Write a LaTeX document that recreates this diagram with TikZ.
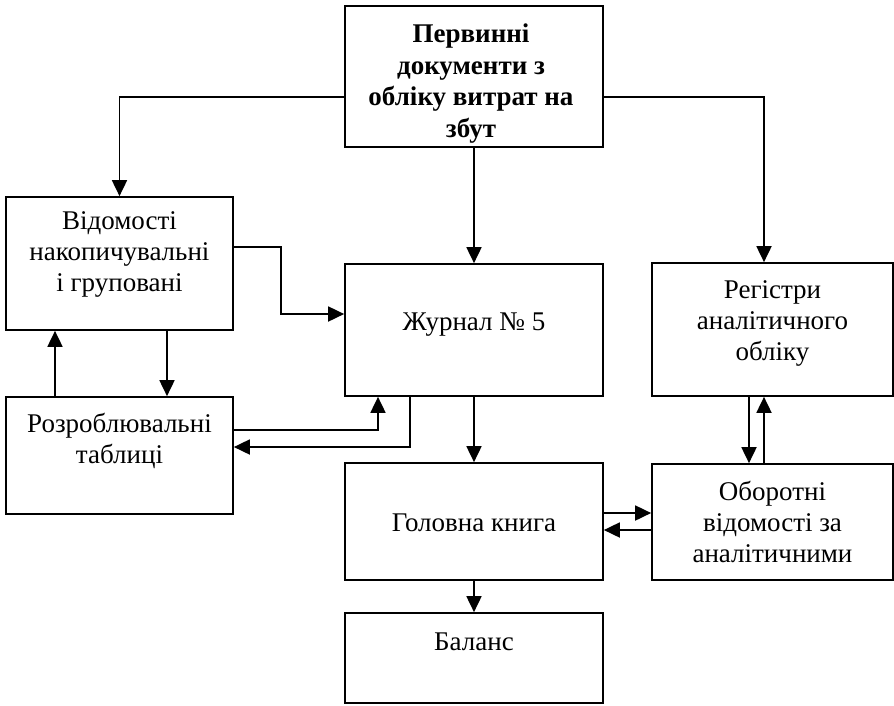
\documentclass[tikz,border=0pt]{standalone}
\usepackage{fontspec}
\setmainfont{Liberation Serif}
\usetikzlibrary{arrows.meta,positioning}

\begin{document}
\begin{tikzpicture}[x=1pt,y=-1pt,line width=1.8pt,
   b/.style={draw,line width=1.7pt,inner sep=0pt},
   tx/.style={inner sep=0pt,align=center,font=\fontsize{27}{31}\selectfont,
              execute at begin node=\strut},
   ar/.style={-{Triangle[length=16pt,width=15pt]}}]
  \useasboundingbox (0,0) rectangle (894,705);
  \node[b,minimum width=258pt,minimum height=141pt] (prv) at (474,76.5) {};
  \node[b,minimum width=227pt,minimum height=133pt] (ved) at (119.5,263.5) {};
  \node[b,minimum width=227pt,minimum height=117pt] (rozr) at (119.5,455.5) {};
  \node[b,minimum width=258pt,minimum height=132pt] (zhur) at (474,330) {};
  \node[b,minimum width=241pt,minimum height=133pt] (reg) at (772.5,329.5) {};
  \node[b,minimum width=258pt,minimum height=117pt] (gol) at (474,521.5) {};
  \node[b,minimum width=241pt,minimum height=116pt] (obor) at (772.5,522) {};
  \node[b,minimum width=258pt,minimum height=90pt] (bal) at (474,658) {};

  \node[tx,font=\fontsize{27}{31.5}\selectfont\bfseries,below=18pt of prv.north,xshift=-3pt] (prvT)
       {Первинні\\документи з\\обліку витрат на\\збут};
  \node[tx,below=15pt of ved.north] (vedT) {Відомості\\накопичувальні\\і груповані};
  \node[tx,below=16pt of rozr.north] (rozrT) {Розроблювальні\\таблиці};
  \node[tx,below=44.5pt of zhur.north] (zhurT) {Журнал № 5};
  \node[tx,below=18pt of reg.north] (regT) {Регістри\\аналітичного\\обліку};
  \node[tx,below=46.5pt of gol.north] (golT) {Головна книга};
  \node[tx,below=17.5pt of obor.north] (oborT) {Оборотні\\відомості за\\аналітичними};
  \node[tx,below=15.5pt of bal.north] (balT) {Баланс};

  \draw[ar] ([yshift=-20.5pt]prv.west) -| (ved.north);
  \draw[ar] (prv.south) -- (zhur.north);
  \draw[ar] ([yshift=-20.5pt]prv.east) -| ([xshift=-8.5pt]reg.north);
  \draw[ar] ([yshift=16.5pt]ved.east) -- ++(47,0) |- ([yshift=16pt]zhur.west);
  \draw[ar] ([xshift=-64.5pt]rozr.north) -- ([xshift=-64.5pt]ved.south);
  \draw[ar] ([xshift=47.5pt]ved.south) -- ([xshift=47.5pt]rozr.north);
  \draw[ar] ([yshift=25.5pt]rozr.east) -| ([xshift=-96pt]zhur.south);
  \draw[ar] ([xshift=-64pt]zhur.south) |- ([yshift=8.5pt]rozr.east);
  \draw[ar] (zhur.south) -- (gol.north);
  \draw[ar] ([yshift=8.5pt]gol.east) -- ([yshift=9pt]obor.west);
  \draw[ar] ([yshift=-8pt]obor.west) -- ([yshift=-8.5pt]gol.east);
  \draw[ar] ([xshift=-23.5pt]reg.south) -- ([xshift=-23.5pt]obor.north);
  \draw[ar] ([xshift=-8.5pt]obor.north) -- ([xshift=-8.5pt]reg.south);
  \draw[ar] (gol.south) -- (bal.north);
\end{tikzpicture}
\end{document}
